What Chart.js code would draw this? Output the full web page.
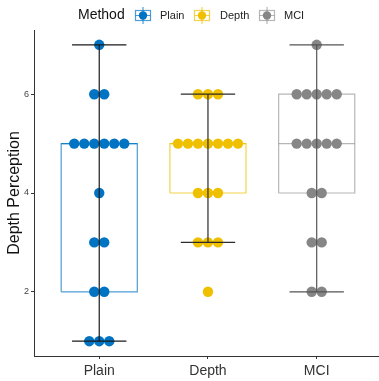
<!DOCTYPE html>
<html>
<head>
<meta charset="utf-8">
<script src="https://cdn.jsdelivr.net/npm/chart.js@4"></script>
<style>
  html, body { margin: 0; background: #fff; }
  #wrap { width: 379px; height: 381px; }
</style>
</head>
<body>
<div id="wrap"><canvas id="chart"></canvas></div>
<script>
/* global Chart */

const methods = ['Plain', 'Depth', 'MCI']
const colors = ['#0073C2', '#EFC000', '#868686']
const boxColors = ['rgba(0,115,194,0.7)', 'rgba(239,192,0,0.7)', 'rgba(134,134,134,0.6)']
const whiskerColors = ['#1a1a1a', '#2b2b2b', '#555555']

// depth perception scores, one array per method
const plain = [1, 1, 1, 2, 2, 3, 3, 4, 5, 5, 5, 5, 5, 5, 6, 6, 7]
const depth = [2, 3, 3, 3, 4, 4, 4, 5, 5, 5, 5, 5, 5, 5, 6, 6, 6]
const mci = [2, 2, 3, 3, 4, 4, 5, 5, 5, 5, 5, 6, 6, 6, 6, 6, 7]
const yTicks = [2, 4, 6]

const groups = [plain, depth, mci]

// quantile like R type 7
const quantile = (arr, p) => {
  const s = [...arr].sort((a, b) => a - b)
  const h = (s.length - 1) * p
  const lo = Math.floor(h)
  return s[lo] + (h - lo) * ((s[lo + 1] ?? s[lo]) - s[lo])
}

const stats = groups.map(g => {
  const q1 = quantile(g, 0.25)
  const med = quantile(g, 0.5)
  const q3 = quantile(g, 0.75)
  const iqr = q3 - q1
  const inside = g.filter(v => v >= q1 - 1.5 * iqr && v <= q3 + 1.5 * iqr)
  return { q1, med, q3, lo: Math.min(...inside), hi: Math.max(...inside) }
})

const BOX_HALF = 0.35
const CAP_HALF = 0.25
const DOT_STEP = 0.092

// centred dot stacks for each value
const dotPoints = (g, i) => {
  const counts = {}
  g.forEach(v => { counts[v] = (counts[v] || 0) + 1 })
  const pts = []
  Object.keys(counts).forEach(k => {
    const n = counts[k]
    for (let j = 0; j < n; j++) pts.push({ x: i + (j - (n - 1) / 2) * DOT_STEP, y: +k })
  })
  return pts
}

const lineSet = (data, color, width, order) => ({
  data, showLine: true, borderColor: color, borderWidth: width,
  pointRadius: 0, pointHoverRadius: 0, fill: false, tension: 0, order
})

const datasets = []
stats.forEach((s, i) => {
  datasets.push(lineSet([
    { x: i - BOX_HALF, y: s.q1 }, { x: i + BOX_HALF, y: s.q1 },
    { x: i + BOX_HALF, y: s.q3 }, { x: i - BOX_HALF, y: s.q3 },
    { x: i - BOX_HALF, y: s.q1 }
  ], boxColors[i], 1.2, 3))
  datasets.push(lineSet([{ x: i - BOX_HALF, y: s.med }, { x: i + BOX_HALF, y: s.med }], boxColors[i], 1.2, 3))
  datasets.push({
    data: dotPoints(groups[i], i), backgroundColor: colors[i], borderColor: colors[i],
    borderWidth: 0, pointRadius: 5.2, pointHoverRadius: 5.2, order: 2
  })
  datasets.push(lineSet([{ x: i, y: s.lo }, { x: i, y: s.hi }], whiskerColors[i], 1.2, 1))
  datasets.push(lineSet([{ x: i - CAP_HALF, y: s.lo }, { x: i + CAP_HALF, y: s.lo }], whiskerColors[i], 1.2, 1))
  datasets.push(lineSet([{ x: i - CAP_HALF, y: s.hi }, { x: i + CAP_HALF, y: s.hi }], whiskerColors[i], 1.2, 1))
})

// legend row: "Method" + boxplot keys
const methodLegend = {
  id: 'methodLegend',
  afterDraw (chart) {
    const c = chart.ctx
    c.save()
    c.textBaseline = 'middle'
    c.fillStyle = '#111'
    c.font = '14px "Liberation Sans", Arial, sans-serif'
    c.fillText('Method', 78, 15)
    const keyX = [135, 194, 259]
    const textX = [160, 220, 284]
    methods.forEach((m, i) => {
      const x = keyX[i]
      c.strokeStyle = boxColors[i]
      c.lineWidth = 1.2
      c.strokeRect(x + 0.5, 10.5, 15, 10)
      c.beginPath()
      c.moveTo(x + 0.5, 15.5); c.lineTo(x + 15.5, 15.5)
      c.moveTo(x + 8, 7); c.lineTo(x + 8, 24)
      c.stroke()
      c.fillStyle = colors[i]
      c.beginPath()
      c.arc(x + 8, 15.5, 4.2, 0, Math.PI * 2)
      c.fill()
      c.fillStyle = '#222'
      c.font = '11px "Liberation Sans", Arial, sans-serif'
      c.fillText(m, textX[i], 16)
    })
    c.restore()
  }
}

new Chart(document.getElementById('chart'), {
  type: 'scatter',
  data: { datasets },
  plugins: [methodLegend],
  options: {
    responsive: true,
    maintainAspectRatio: false,
    animation: false,
    events: [],
    layout: { autoPadding: false, padding: { top: 30, left: 0, right: 0, bottom: 0 } },
    plugins: { legend: { display: false }, tooltip: { enabled: false } },
    scales: {
      x: {
        type: 'linear',
        min: -0.6,
        max: 2.573,
        afterBuildTicks: scale => { scale.ticks = [0, 1, 2].map(v => ({ value: v })) },
        afterFit: scale => {
          scale.height = 25
          scale.paddingLeft = 0
          scale.paddingRight = 0
        },
        ticks: {
          callback: v => methods[v],
          color: '#333',
          padding: 4,
          maxRotation: 0,
          autoSkip: false,
          font: { size: 14, family: '"Liberation Sans", Arial, sans-serif' }
        },
        grid: { drawOnChartArea: false, drawTicks: true, tickLength: 3, color: '#333' },
        border: { color: '#333', width: 1 }
      },
      y: {
        min: 0.7,
        max: 7.3,
        afterBuildTicks: scale => { scale.ticks = yTicks.map(v => ({ value: v })) },
        afterFit: scale => { scale.width = 34 },
        ticks: {
          color: '#444',
          padding: 2,
          font: { size: 9, family: '"Liberation Sans", Arial, sans-serif' }
        },
        grid: { drawOnChartArea: false, drawTicks: true, tickLength: 3, color: '#333' },
        border: { color: '#333', width: 1 },
        title: {
          display: true,
          text: 'Depth Perception',
          color: '#111',
          padding: { top: 5, bottom: 0 },
          font: { size: 16, family: '"Liberation Sans", Arial, sans-serif' }
        }
      }
    }
  }
})
</script>
</body>
</html>
